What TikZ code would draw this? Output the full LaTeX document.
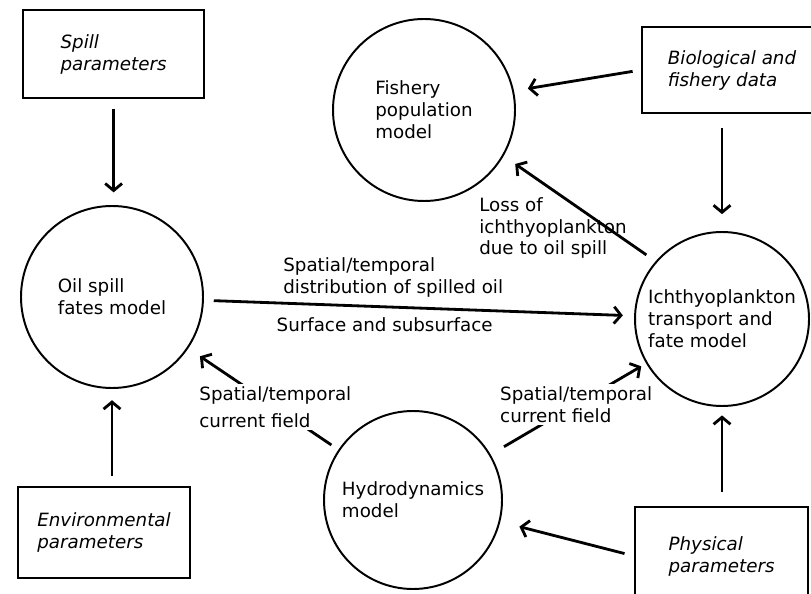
\documentclass[tikz,border=0pt]{standalone}
\usepackage{fontspec}
\setmainfont{DejaVu Sans}
\usetikzlibrary{arrows.meta}

\tikzset{model/.style={draw, circle, line width=1.4pt, inner sep=1pt, align=left}}
\tikzset{datain/.style={draw, rectangle, line width=1.5pt, align=left, font=\itshape}}
\tikzset{flow/.style={line width=2pt, -{Straight Barb[length=5pt, width=12pt]}}}
\tikzset{lbl/.style={align=left, inner sep=2pt}}

\begin{document}
\fontsize{13}{15.6}\selectfont
\begin{tikzpicture}
    \useasboundingbox (0,0) rectangle (20.275,-14.85);

        \node[datain, minimum width=4.525cm, minimum height=2.2cm] (spill) at (2.84, -1.35) {Spill\\parameters};
        \node[datain, minimum width=4.3cm, minimum height=2.275cm] (env) at (2.6, -13.31) {Environmental\\parameters};
        \node[datain, minimum width=4.5cm, minimum height=2.15cm] (bio) at (18.3, -1.75) {Biological and\\fishery data};
        \node[datain, minimum width=4.325cm, minimum height=2.45cm] (phys) at (18.04, -13.9) {Physical\\parameters};

        \node[model, minimum size=4.55cm] (oil) at (2.8, -7.425) {Oil spill\\fates model};
        \node[model, minimum size=4.55cm] (fish) at (10.6, -2.75) {Fishery\\population\\model};
        \node[model, minimum size=4.35cm] (ich) at (18.05, -7.975) {Ichthyoplankton\\transport and\\fate model};
        \node[model, minimum size=4.45cm] (hydro) at (10.325, -12.5) {Hydrodynamics\\model};

        \node[lbl] (loss) at (13.825, -5.7) {Loss of\\ichthyoplankton\\due to oil spill};

        \draw [flow, shorten <=7pt, shorten >=9pt] (spill.south) -- (spill.south |- oil.north);
        \draw [flow, shorten <=7pt, shorten >=8pt] (oil.south |- env.north) -- (oil.south);
        \draw [flow, shorten <=6pt, shorten >=10pt] (bio.west) -- (fish.12);
        \draw [flow, shorten <=10pt, shorten >=12pt] (ich.north |- bio.south) -- (ich.north);
        \draw [flow, shorten <=8pt, shorten >=10pt] (ich.139) -- (fish.-30);
        \draw [flow, shorten <=7pt, shorten >=8pt] (oil) --
            node[lbl, above=4pt, pos=0.44] (dist) {Spatial/temporal\\distribution of spilled oil}
            node[lbl, below=5pt, pos=0.42] (surf) {Surface and subsurface} (ich);
        \draw [flow, shorten <=6pt, shorten >=10pt] (hydro) --
            node[lbl, fill=white, pos=0.42] (curl) {Spatial/temporal\\[3pt]current field} (oil);
        \draw [flow, shorten <=11pt, shorten >=4pt] (hydro) --
            node[lbl, fill=white, pos=0.55] (curr) {Spatial/temporal\\current field} (ich);
        \draw [flow, shorten <=10pt, shorten >=6pt] (ich.south |- phys.north) -- (ich.south);
        \draw [flow, shorten <=7pt, shorten >=14pt] (phys.west) -- (hydro.-14);

    \end{tikzpicture}
\end{document}
